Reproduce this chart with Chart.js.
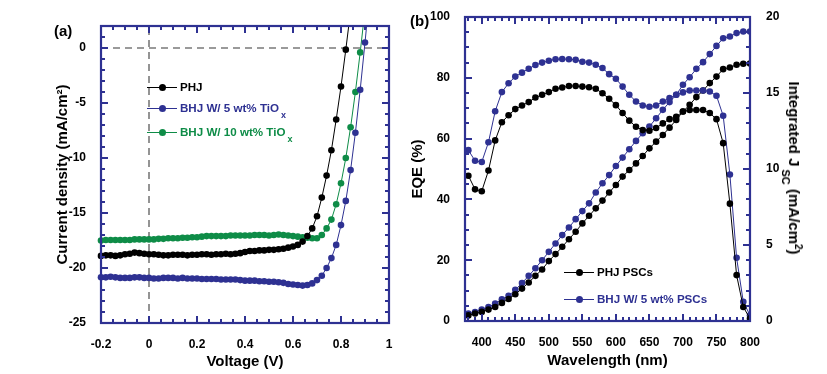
<!DOCTYPE html>
<html>
<head>
<meta charset="utf-8">
<script src="https://cdn.jsdelivr.net/npm/chart.js@4.4.1/dist/chart.umd.min.js"></script>
<style>
  body { margin: 0; width: 827px; height: 374px; position: relative; background: #fff; overflow: hidden;
         font-family: 'Liberation Sans', Arial, sans-serif; font-weight: bold; }
  .wrap { position: absolute; top: 0; height: 374px; }
  .lab { position: absolute; font-size: 15px; white-space: nowrap; }
  .leg { position: absolute; font-size: 11.6px; white-space: nowrap; line-height: 1; }
  .leg sub { font-size: 9px; vertical-align: -6px; margin-left: 2px; }
  .sample { position: absolute; height: 1px; width: 30px; }
  .dot { position: absolute; width: 7px; height: 7px; border-radius: 50%; }
</style>
</head>
<body>
<div class="wrap" style="left:0;width:410px"><canvas id="chartA"></canvas></div>
<div class="wrap" style="left:410px;width:417px"><canvas id="chartB"></canvas></div>
<div class="lab" style="left:54px;top:22px">(a)</div>
<div class="lab" style="left:410px;top:12px">(b)</div>
<div class="lab" id="jscTitle" style="left:792px;top:168px;transform:translate(-50%,-50%) rotate(90deg)">Integrated J<sub style="font-size:11px;vertical-align:-7px;margin-left:3px">SC</sub> (mA/cm<sup style="font-size:10px">2</sup>)</div>
<div id="legends"></div>
<script>
// colores
const negro = '#000000';
const azul = '#2e3192';
const verde = '#0e8c47';
const marco = '#2e3192';

// (a) curvas J-V
const voltaje = [-0.20, -0.18, -0.16, -0.14, -0.12, -0.10, -0.08, -0.06, -0.04, -0.02,
  0.00, 0.02, 0.04, 0.06, 0.08, 0.10, 0.12, 0.14, 0.16, 0.18,
  0.20, 0.22, 0.24, 0.26, 0.28, 0.30, 0.32, 0.34, 0.36, 0.38,
  0.40, 0.42, 0.44, 0.46, 0.48, 0.50, 0.52, 0.54, 0.56, 0.58,
  0.60, 0.62, 0.64, 0.66, 0.68, 0.70, 0.72, 0.74, 0.76, 0.78,
  0.80, 0.82, 0.84, 0.86, 0.88, 0.90, 0.92];
const jPHJ = [-18.9, -18.85, -18.85, -18.9, -18.85, -18.75, -18.7, -18.6, -18.65, -18.7,
  -18.75, -18.75, -18.8, -18.85, -18.85, -18.8, -18.8, -18.8, -18.85, -18.8,
  -18.8, -18.75, -18.75, -18.8, -18.75, -18.75, -18.7, -18.75, -18.7, -18.65,
  -18.55, -18.45, -18.45, -18.4, -18.4, -18.35, -18.35, -18.3, -18.25, -18.15,
  -18.05, -17.9, -17.6, -17.1, -16.4, -15.3, -13.6, -11.6, -9.3, -6.5,
  -3.5, -0.15, 3.4];
const jBHJ5 = [-20.85, -20.85, -20.8, -20.85, -20.9, -20.9, -20.9, -20.85, -20.85, -20.9,
  -20.9, -20.95, -20.95, -20.9, -20.9, -20.9, -20.95, -20.9, -20.95, -20.95,
  -20.95, -21.0, -21.0, -21.0, -21.0, -21.05, -21.05, -21.05, -21.05, -21.1,
  -21.15, -21.15, -21.15, -21.2, -21.2, -21.25, -21.25, -21.3, -21.35, -21.45,
  -21.5, -21.55, -21.6, -21.55, -21.4, -21.1, -20.7, -20.0, -19.1, -17.9,
  -16.1, -13.9, -11.1, -7.7, -3.8, 0.5, 5.0];
const jBHJ10 = [-17.5, -17.45, -17.45, -17.45, -17.45, -17.45, -17.45, -17.4, -17.4, -17.4,
  -17.4, -17.4, -17.35, -17.35, -17.3, -17.3, -17.3, -17.25, -17.25, -17.2,
  -17.2, -17.15, -17.1, -17.1, -17.1, -17.1, -17.1, -17.05, -17.05, -17.05,
  -17.05, -17.05, -17.0, -17.0, -17.0, -17.05, -17.0, -16.95, -17.0, -17.05,
  -17.1, -17.15, -17.2, -17.25, -17.3, -17.3, -17.0, -16.4, -15.6, -14.2,
  -12.3, -10.0, -7.2, -4.0, -0.4, 3.5];
const ticksVoltaje = [-0.2, 0, 0.2, 0.4, 0.6, 0.8, 1];
const ticksJ = [-25, -20, -15, -10, -5, 0];

// (b) EQE y Jsc integrada
const longitud = [380, 390, 400, 410, 420, 430, 440, 450, 460, 470,
  480, 490, 500, 510, 520, 530, 540, 550, 560, 570,
  580, 590, 600, 610, 620, 630, 640, 650, 660, 670,
  680, 690, 700, 710, 720, 730, 740, 750, 760, 770,
  780, 790, 800];
const eqePHJ = [47.8, 43.3, 42.7, 49.5, 59.4, 65.4, 67.7, 69.7, 70.9, 72.0,
  73.5, 74.4, 75.3, 76.4, 76.8, 77.3, 77.3, 77.1, 76.9, 76.4,
  74.9, 73.1, 71.0, 68.4, 65.9, 63.9, 62.8, 62.6, 63.5, 65.0,
  66.4, 67.2, 68.9, 69.4, 69.4, 69.4, 68.4, 66.4, 58.5, 38.6,
  15.1, 4.6, 0.8];
const eqeBHJ = [56.2, 52.7, 52.3, 58.8, 69.0, 75.3, 78.2, 80.4, 81.7, 83.0,
  84.2, 85.0, 85.6, 86.1, 86.2, 86.1, 85.9, 85.3, 85.0, 84.3,
  83.2, 81.2, 79.7, 77.1, 74.4, 72.2, 70.9, 70.5, 70.9, 72.2,
  73.3, 74.4, 75.2, 75.8, 75.8, 75.8, 75.5, 74.1, 67.5, 48.2,
  20.8, 6.3, 1.9];
const jscPHJ = [0.37, 0.49, 0.60, 0.75, 0.92, 1.19, 1.45, 1.76, 2.13, 2.53,
  2.97, 3.39, 3.94, 4.40, 4.88, 5.38, 5.87, 6.42, 6.92, 7.41,
  7.92, 8.45, 8.95, 9.50, 9.93, 10.37, 10.86, 11.36, 11.80, 12.24,
  12.72, 13.23, 13.78, 14.22, 14.73, 15.16, 15.65, 16.08, 16.57, 16.68,
  16.86, 16.92, 16.94];
const jscBHJ = [0.49, 0.59, 0.75, 0.92, 1.15, 1.43, 1.65, 2.05, 2.50, 2.97,
  3.47, 4.00, 4.55, 5.10, 5.65, 6.15, 6.70, 7.23, 7.74, 8.45,
  9.06, 9.60, 10.20, 10.75, 11.30, 11.85, 12.35, 12.79, 13.34, 13.89,
  14.40, 14.88, 15.54, 16.04, 16.59, 17.03, 17.56, 18.10, 18.60, 18.72,
  18.94, 19.05, 19.05];
const ticksLongitud = [400, 450, 500, 550, 600, 650, 700, 750, 800];
const ticksEQE = [0, 20, 40, 60, 80, 100];
const ticksJsc = [0, 5, 10, 15, 20];

Chart.defaults.font.family = "'Liberation Sans', Arial, sans-serif";
Chart.defaults.font.weight = 'bold';
Chart.defaults.font.size = 12;
Chart.defaults.color = '#000';

function pares(xs, ys) {
  return ys.map((y, i) => ({ x: xs[i], y: y }));
}

function serie(label, xs, ys, color, extra) {
  return Object.assign({
    label: label,
    data: pares(xs, ys),
    borderColor: color,
    backgroundColor: color,
    borderWidth: 1,
    pointRadius: 3.3,
    pointBorderWidth: 0,
    pointBackgroundColor: color,
    tension: 0
  }, extra || {});
}

function menores(min, max, paso) {
  const out = [];
  const n0 = Math.ceil(min / paso - 1e-9), n1 = Math.floor(max / paso + 1e-9);
  for (let n = n0; n <= n1; n++) out.push(n * paso);
  return out;
}

// etiquetas sin ceros de mas (1 en vez de 1.0)
const etiqueta = v => String(Math.round(v * 100) / 100);

// marco y ticks hacia dentro
function marcoTicks(cfg) {
  return {
    id: 'marcoTicks',
    afterDraw(chart) {
      const { ctx, chartArea: a } = chart;
      ctx.save();
      ctx.strokeStyle = marco;
      ctx.lineWidth = 2;
      const linea = (x1, y1, x2, y2) => { ctx.beginPath(); ctx.moveTo(x1, y1); ctx.lineTo(x2, y2); ctx.stroke(); };
      const sx = chart.scales.x;
      menores(sx.min, sx.max, cfg.xPaso).forEach(v => {
        const px = Math.round(sx.getPixelForValue(v));
        linea(px, a.bottom, px, a.bottom - 4); linea(px, a.top, px, a.top + 4);
      });
      cfg.xMayor.forEach(v => {
        const px = Math.round(sx.getPixelForValue(v));
        linea(px, a.bottom, px, a.bottom - 7); linea(px, a.top, px, a.top + 7);
      });
      [['izq', a.left, 1], ['der', a.right, -1]].forEach(([lado, x0, dir]) => {
        const c = cfg[lado];
        const s = chart.scales[c.escala];
        menores(s.min, s.max, c.paso).forEach(v => {
          const py = Math.round(s.getPixelForValue(v));
          linea(x0, py, x0 + dir * 4, py);
        });
        c.mayor.forEach(v => {
          const py = Math.round(s.getPixelForValue(v));
          linea(x0, py, x0 + dir * 7, py);
        });
      });
      ctx.lineWidth = 2.2;
      ctx.strokeRect(a.left, a.top, a.width, a.height);
      ctx.restore();
    }
  };
}

const fuenteTitulo = { size: 15, weight: 'bold', lineHeight: 1.2 };

// Panel (a)
new Chart(document.getElementById('chartA'), {
  type: 'line',
  data: {
    datasets: [
      serie('PHJ', voltaje, jPHJ, negro, { clip: { left: 6, right: 6, top: 0, bottom: 6 } }),
      serie('BHJ W/ 5 wt% TiOx', voltaje, jBHJ5, azul, { clip: { left: 6, right: 6, top: 0, bottom: 6 } }),
      serie('BHJ W/ 10 wt% TiOx', voltaje, jBHJ10, verde, { clip: { left: 6, right: 6, top: 0, bottom: 6 } }),
      { data: pares([-0.2, 1], [0, 0]), borderColor: '#7a7a7a', borderWidth: 1.6, borderDash: [7, 5], pointRadius: 0, order: 10 },
      { data: pares([0, 0], [-25, 2]), borderColor: '#7a7a7a', borderWidth: 1.6, borderDash: [7, 5], pointRadius: 0, order: 10 }
    ]
  },
  options: {
    responsive: true,
    maintainAspectRatio: false,
    animation: false,
    layout: { padding: { top: 26, right: 21, left: 0, bottom: 0 } },
    plugins: { legend: { display: false }, tooltip: { enabled: false } },
    scales: {
      x: {
        type: 'linear', min: -0.2, max: 1,
        afterBuildTicks: s => { s.ticks = ticksVoltaje.map(v => ({ value: v })); },
        afterFit: s => { s.height = 51; },
        grid: { display: false }, border: { display: false },
        ticks: { padding: 6, maxRotation: 0, callback: etiqueta },
        title: { display: true, text: 'Voltage (V)', font: fuenteTitulo, padding: { top: 0, bottom: 3 } }
      },
      y: {
        type: 'linear', min: -25, max: 2,
        afterBuildTicks: s => { s.ticks = ticksJ.map(v => ({ value: v })); },
        afterFit: s => { s.width = 101; },
        grid: { display: false }, border: { display: false },
        ticks: { padding: 7, callback: etiqueta },
        title: { display: true, text: 'Current density (mA/cm²)', font: fuenteTitulo, padding: { top: 54, bottom: 0 } }
      }
    }
  },
  plugins: [marcoTicks({
    xPaso: 0.05, xMayor: ticksVoltaje,
    izq: { escala: 'y', paso: 1, mayor: ticksJ },
    der: { escala: 'y', paso: 1, mayor: ticksJ }
  })]
});

// Panel (b)
new Chart(document.getElementById('chartB'), {
  type: 'line',
  data: {
    datasets: [
      serie('PHJ PSCs', longitud, eqePHJ, negro, { yAxisID: 'y' }),
      serie('BHJ W/ 5 wt% PSCs', longitud, eqeBHJ, azul, { yAxisID: 'y' }),
      serie('PHJ Jsc', longitud, jscPHJ, negro, { yAxisID: 'y2' }),
      serie('BHJ Jsc', longitud, jscBHJ, azul, { yAxisID: 'y2' })
    ]
  },
  options: {
    responsive: true,
    maintainAspectRatio: false,
    animation: false,
    layout: { padding: { top: 17, right: 0, left: 0, bottom: 0 } },
    plugins: { legend: { display: false }, tooltip: { enabled: false } },
    scales: {
      x: {
        type: 'linear', min: 375, max: 800,
        afterBuildTicks: s => { s.ticks = ticksLongitud.map(v => ({ value: v })); },
        afterFit: s => { s.height = 53; },
        grid: { display: false }, border: { display: false },
        ticks: { padding: 6, maxRotation: 0, callback: etiqueta },
        title: { display: true, text: 'Wavelength (nm)', font: fuenteTitulo, padding: { top: 0, bottom: 4 } }
      },
      y: {
        type: 'linear', position: 'left', min: 0, max: 100,
        afterBuildTicks: s => { s.ticks = ticksEQE.map(v => ({ value: v })); },
        afterFit: s => { s.width = 55; },
        grid: { display: false }, border: { display: false },
        ticks: { padding: 7, callback: etiqueta },
        title: { display: true, text: 'EQE (%)', font: { size: 15, weight: 'bold', lineHeight: 1 }, padding: { top: 0, bottom: 0 } }
      },
      y2: {
        type: 'linear', position: 'right', min: 0, max: 20,
        afterBuildTicks: s => { s.ticks = ticksJsc.map(v => ({ value: v })); },
        afterFit: s => { s.width = 77; },
        grid: { display: false }, border: { display: false },
        ticks: { padding: 8, callback: etiqueta }
      }
    }
  },
  plugins: [marcoTicks({
    xPaso: 10, xMayor: ticksLongitud,
    izq: { escala: 'y', paso: 5, mayor: ticksEQE },
    der: { escala: 'y2', paso: 1, mayor: ticksJsc }
  })]
});

// Leyendas dentro de los paneles
const leyendas = [
  { x: 147, y: 87, color: negro, html: 'PHJ' },
  { x: 147, y: 108, color: azul, html: 'BHJ W/ 5 wt% TiO<sub>x</sub>' },
  { x: 147, y: 132, color: verde, html: 'BHJ W/ 10 wt% TiO<sub>x</sub>' },
  { x: 564, y: 272, color: negro, html: 'PHJ PSCs' },
  { x: 564, y: 299, color: azul, html: 'BHJ W/ 5 wt% PSCs' }
];
const cont = document.getElementById('legends');
leyendas.forEach(l => {
  const s = document.createElement('div');
  s.className = 'sample';
  s.style.cssText = `left:${l.x}px;top:${l.y}px;background:${l.color}`;
  const d = document.createElement('div');
  d.className = 'dot';
  d.style.cssText = `left:${l.x + 11.5}px;top:${l.y - 3}px;background:${l.color}`;
  const t = document.createElement('div');
  t.className = 'leg';
  t.style.cssText = `left:${l.x + 33}px;top:${l.y - 6}px;color:${l.color}`;
  t.innerHTML = l.html;
  cont.appendChild(s); cont.appendChild(d); cont.appendChild(t);
});
</script>
</body>
</html>
